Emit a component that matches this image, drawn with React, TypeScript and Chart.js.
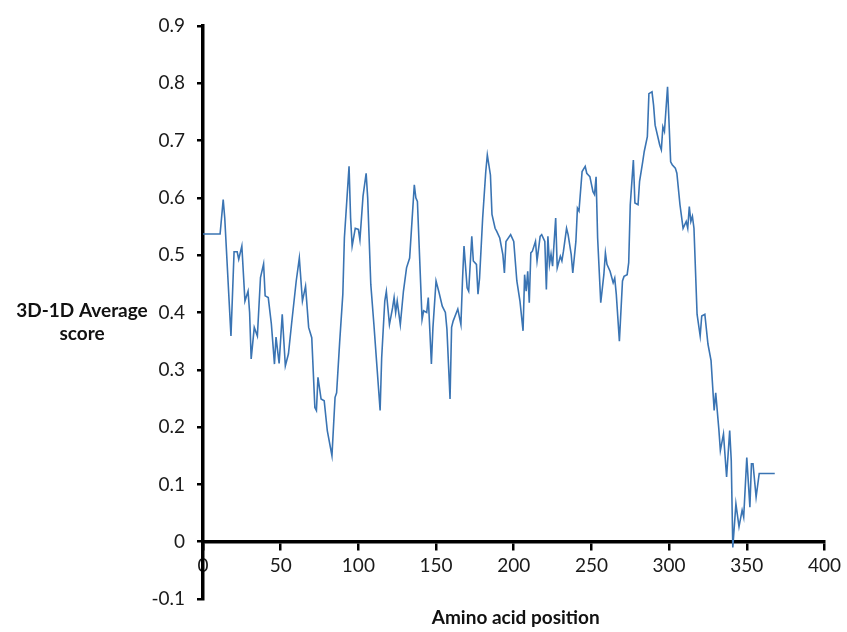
import React, { useEffect, useRef } from 'react';
import { Chart, registerables } from 'chart.js';

Chart.register(...registerables);

// Amino acid positions (x) and 3D-1D average scores (y)
const positions: number[] = [
  0, 11, 13, 14, 18, 20, 22, 23, 25, 27, 29, 30, 31, 33, 35, 37, 39, 40, 42, 44,
  46, 47, 49, 51, 53, 55, 57, 60, 62, 64, 66, 68, 70, 72, 73, 74, 76, 78, 80, 83,
  85, 86, 88, 90, 91, 94, 95, 96, 98, 100, 101, 103, 105, 106, 108, 110, 112, 114, 115, 117,
  118, 120, 122, 123, 124, 125, 127, 129, 131, 133, 136, 137, 138, 141, 142, 144, 145, 147, 148, 150,
  152, 154, 156, 157, 159, 160, 161, 164, 166, 167, 168, 170, 171, 173, 174, 176, 177, 178, 180, 182,
  183, 185, 186, 188, 189, 191, 193, 194, 195, 198, 200, 202, 204, 206, 207, 208, 209, 210, 211, 212,
  214, 215, 217, 218, 220, 221, 222, 223, 224, 225, 227, 228, 230, 231, 232, 234, 235, 237, 238, 240,
  241, 242, 244, 246, 247, 248, 249, 251, 252, 253, 254, 256, 258, 259, 260, 262, 264, 265, 266, 268,
  270, 271, 273, 274, 275, 277, 278, 280, 281, 283, 284, 286, 287, 289, 290, 291, 294, 295, 296, 297,
  299, 301, 302, 304, 305, 307, 309, 311, 312, 313, 314, 315, 316, 318, 320, 321, 323, 325, 327, 329,
  330, 332, 333, 335, 337, 339, 340, 341, 343, 345, 347, 348, 350, 352, 353, 354, 356, 358, 368,
];

const scores: number[] = [
  0.537, 0.537, 0.597, 0.565, 0.359, 0.506, 0.506, 0.493, 0.516, 0.42, 0.437, 0.40, 0.319, 0.374, 0.359, 0.461, 0.485, 0.429, 0.426, 0.38,
  0.31, 0.357, 0.311, 0.397, 0.307, 0.328, 0.38, 0.455, 0.495, 0.42, 0.446, 0.374, 0.356, 0.234, 0.229, 0.287, 0.249, 0.246, 0.194, 0.15,
  0.252, 0.26, 0.35, 0.432, 0.53, 0.655, 0.565, 0.516, 0.547, 0.545, 0.527, 0.603, 0.643, 0.60, 0.449, 0.379, 0.304, 0.229, 0.321, 0.42,
  0.437, 0.379, 0.408, 0.426, 0.40, 0.42, 0.379, 0.437, 0.478, 0.495, 0.623, 0.60, 0.594, 0.388, 0.403, 0.40, 0.426, 0.31, 0.374, 0.455,
  0.434, 0.411, 0.40, 0.371, 0.249, 0.374, 0.385, 0.406, 0.379, 0.455, 0.516, 0.443, 0.437, 0.533, 0.49, 0.484, 0.432, 0.46, 0.565, 0.646,
  0.675, 0.64, 0.571, 0.547, 0.542, 0.53, 0.501, 0.469, 0.524, 0.536, 0.524, 0.455, 0.42, 0.368, 0.466, 0.437, 0.472, 0.417, 0.504, 0.507,
  0.524, 0.49, 0.533, 0.536, 0.524, 0.44, 0.533, 0.484, 0.502, 0.481, 0.565, 0.478, 0.498, 0.49, 0.507, 0.547, 0.536, 0.501, 0.469, 0.524,
  0.582, 0.577, 0.646, 0.655, 0.643, 0.64, 0.637, 0.611, 0.606, 0.637, 0.53, 0.417, 0.466, 0.504, 0.484, 0.472, 0.452, 0.46, 0.432, 0.35,
  0.455, 0.463, 0.466, 0.487, 0.588, 0.666, 0.591, 0.588, 0.629, 0.663, 0.681, 0.707, 0.782, 0.785, 0.762, 0.727, 0.692, 0.684, 0.724, 0.716,
  0.794, 0.663, 0.658, 0.652, 0.643, 0.588, 0.547, 0.559, 0.547, 0.585, 0.559, 0.568, 0.547, 0.397, 0.359, 0.394, 0.397, 0.345, 0.316, 0.229,
  0.26, 0.197, 0.159, 0.188, 0.113, 0.194, 0.142, -0.01, 0.066, 0.026, 0.055, 0.043, 0.147, 0.06, 0.136, 0.136, 0.078, 0.119, 0.119,
];

const xTicks: number[] = [0, 50, 100, 150, 200, 250, 300, 350, 400];
const yTicks: number[] = [-0.1, 0, 0.1, 0.2, 0.3, 0.4, 0.5, 0.6, 0.7, 0.8, 0.9];
const xTitle = 'Amino acid position';
const yTitleLines: string[] = ['3D-1D Average', 'score'];

const FONT = 'Lato, "Open Sans", sans-serif';

const titlesPlugin = {
  id: 'axisTitles',
  afterDraw(chart: any) {
    const ctx = chart.ctx;
    const area = chart.chartArea;
    ctx.save();
    ctx.fillStyle = '#111111';
    ctx.font = `bold 19px ${FONT}`;
    ctx.textAlign = 'center';
    ctx.textBaseline = 'middle';
    ctx.fillText(xTitle, (area.left + area.right) / 2 + 2, 618);
    ctx.fillText(yTitleLines[0], 82, 311);
    ctx.fillText(yTitleLines[1], 82, 334);
    ctx.restore();
  },
};

export default function App() {
  const canvasRef = useRef<HTMLCanvasElement | null>(null);

  useEffect(() => {
    const canvas = canvasRef.current;
    if (!canvas) return;
    const data = positions.map((x, i) => ({ x, y: scores[i] }));
    const chart = new Chart(canvas, {
      type: 'line',
      data: {
        datasets: [
          {
            data,
            borderColor: '#3a74b3',
            borderWidth: 1.6,
            pointRadius: 0,
            tension: 0,
            fill: false,
          },
        ],
      },
      options: {
        responsive: false,
        animation: false,
        events: [],
        layout: { padding: { left: 143, right: 19, top: 26, bottom: 33 } },
        plugins: {
          legend: { display: false },
          tooltip: { enabled: false },
          title: { display: false },
        },
        scales: {
          x: {
            type: 'linear',
            min: 0,
            max: 400,
            position: { y: 0 } as any,
            afterBuildTicks: (scale: any) => {
              scale.ticks = xTicks.map((v) => ({ value: v }));
            },
            ticks: {
              color: '#1a1a1a',
              font: { family: FONT, size: 19 },
              padding: 6,
              maxRotation: 0,
              autoSkip: false,
              callback: (v: any) => String(v),
            },
            grid: {
              display: true,
              drawOnChartArea: false,
              drawTicks: true,
              tickLength: 7,
              color: '#000000',
              lineWidth: 2.5,
            },
            border: { display: true, color: '#000000', width: 3.5 },
          },
          y: {
            type: 'linear',
            min: -0.1,
            max: 0.9,
            afterBuildTicks: (scale: any) => {
              scale.ticks = yTicks.map((v) => ({ value: v }));
            },
            afterFit: (scale: any) => {
              scale.width = 60;
            },
            ticks: {
              color: '#1a1a1a',
              font: { family: FONT, size: 19 },
              padding: 12,
              autoSkip: false,
              callback: (v: any) => (Math.abs(Number(v)) < 1e-9 ? '0' : Number(v).toFixed(1)),
            },
            grid: {
              display: true,
              drawOnChartArea: false,
              drawTicks: true,
              tickLength: 6,
              color: '#000000',
              lineWidth: 2.5,
            },
            border: { display: true, color: '#000000', width: 3.5 },
          },
        },
      },
      plugins: [titlesPlugin],
    });
    return () => chart.destroy();
  }, []);

  return (
    <div style={{ position: 'fixed', left: 0, top: 0, width: 847, height: 632, background: '#ffffff' }}>
      <canvas ref={canvasRef} width={847} height={632} style={{ display: 'block' }} />
    </div>
  );
}
